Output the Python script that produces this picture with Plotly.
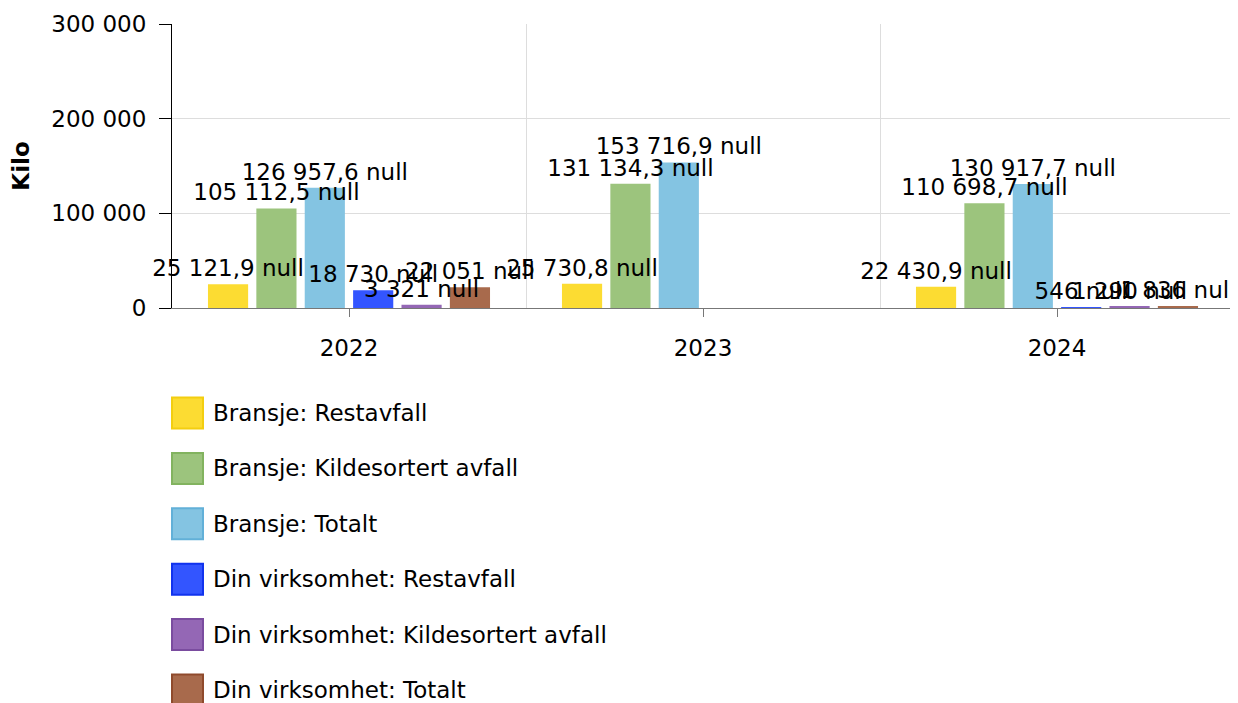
import plotly.graph_objects as go

years = ["2022", "2023", "2024"]
series_names = [
    "Bransje: Restavfall",
    "Bransje: Kildesortert avfall",
    "Bransje: Totalt",
    "Din virksomhet: Restavfall",
    "Din virksomhet: Kildesortert avfall",
    "Din virksomhet: Totalt",
]
bransje_restavfall = [25121.9, 25730.8, 22430.9]
bransje_kildesortert = [105112.5, 131134.3, 110698.7]
bransje_totalt = [126957.6, 153716.9, 130917.7]
din_restavfall = [18730, None, 546]
din_kildesortert = [3321, None, 1290]
din_totalt = [22051, None, 1836]
series_values = [bransje_restavfall, bransje_kildesortert, bransje_totalt,
                 din_restavfall, din_kildesortert, din_totalt]
colors = ["#FCDC32", "#9CC47D", "#84C4E2", "#3355FF", "#9467B5", "#A86A4C"]
borders = ["#F3CE10", "#82B35F", "#62B0D8", "#1133EE", "#7A4C9F", "#8F4A2C"]
y_ticks = [0, 100000, 200000, 300000]

FONT = "DejaVu Sans, Verdana, sans-serif"
FS = 23


def fmt(v):
    if v is None:
        return ""
    if abs(v - round(v)) < 1e-9:
        s = f"{int(round(v)):,}".replace(",", " ")
    else:
        s = f"{v:,.1f}".replace(",", " ").replace(".", ",")
    return s + " null"


fig = go.Figure()
xpos = list(range(len(years)))
# the bars
for name, vals, col in zip(series_names, series_values, colors):
    fig.add_trace(go.Bar(
        x=xpos, y=vals, name=name,
        marker=dict(color=col, line=dict(width=0)),
        showlegend=False, xaxis="x", yaxis="y",
    ))
# value labels on an overlaid axis so they sit above every bar
for name, vals in zip(series_names, series_values):
    fig.add_trace(go.Bar(
        x=xpos, y=vals, name=name,
        marker=dict(color="rgba(0,0,0,0)", line=dict(width=0)),
        text=[fmt(v) for v in vals],
        textposition="outside",
        constraintext="none",
        cliponaxis=False,
        textfont=dict(family=FONT, size=FS, color="#000000"),
        showlegend=False, hoverinfo="skip",
        xaxis="x2", yaxis="y2",
    ))

# manual legend (large swatches)
W, H = 1230, 695
m_l, m_r, m_t, m_b = 164, 4, 16, 395
ph = H - m_t - m_b
first_center = 413 - 8
step = 55.4
for i, (name, col, bcol) in enumerate(zip(series_names, colors, borders)):
    ypix = first_center + i * step
    yp = (H - m_b - ypix) / ph
    fig.add_shape(type="rect", xref="paper", yref="paper",
                  xsizemode="pixel", ysizemode="pixel",
                  xanchor=0, yanchor=yp,
                  x0=0, x1=31, y0=-15.5, y1=15.5,
                  fillcolor=col, line=dict(color=bcol, width=2))
    fig.add_annotation(xref="paper", yref="paper", x=0, y=yp,
                       xshift=39, xanchor="left", yanchor="middle",
                       text=name, showarrow=False,
                       font=dict(family=FONT, size=FS, color="#000000"))

fig.update_layout(
    width=W, height=H,
    margin=dict(l=m_l, r=m_r, t=m_t, b=m_b, autoexpand=False),
    paper_bgcolor="white", plot_bgcolor="white",
    barmode="group", bargap=0.18, bargroupgap=0.17,
    separators=", ",
    font=dict(family=FONT, size=FS, color="#000000"),
    showlegend=False,
    xaxis2=dict(overlaying="x", range=[-0.5, 2.5], visible=False, fixedrange=True),
    yaxis2=dict(overlaying="y", range=[0, 300000], visible=False, fixedrange=True),
)
fig.layout.xaxis.update(
    range=[-0.5, 2.5],
    tickmode="array", tickvals=xpos, ticktext=years,
    showgrid=False,
    ticks="outside", ticklen=8, tickcolor="#777777",
    showline=True, linecolor="#777777", linewidth=1,
    minor=dict(tickmode="array", tickvals=[0.5, 1.5, 2.5], showgrid=True,
               gridcolor="#DDDDDD", gridwidth=1, ticklen=0),
    ticklabelstandoff=11,
    tickfont=dict(family=FONT, size=FS, color="#000000"),
    zeroline=False, fixedrange=True,
)
fig.layout.yaxis.update(
    range=[0, 300000],
    tickmode="array", tickvals=y_ticks, tickformat=",",
    showgrid=True, gridcolor="#DDDDDD", gridwidth=1,
    ticks="outside", ticklen=12, tickcolor="#000000",
    showline=True, linecolor="#000000", linewidth=1,
    zeroline=False,
    ticklabelstandoff=8,
    tickfont=dict(family=FONT, size=FS, color="#000000"),
    title=dict(text="<b>Kilo</b>", standoff=15,
               font=dict(family=FONT, size=FS, color="#000000")),
    automargin=False, fixedrange=True,
)

fig.write_html("out.html", config={"displayModeBar": False})
